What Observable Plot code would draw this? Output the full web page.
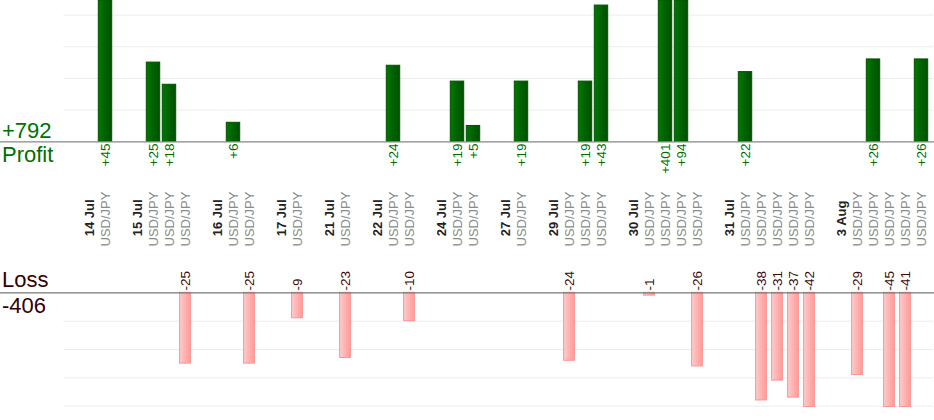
<!DOCTYPE html>
<html>
<head>
<meta charset="utf-8">
<script src="https://cdn.jsdelivr.net/npm/d3@7"></script>
<script src="https://cdn.jsdelivr.net/npm/@observablehq/plot@0.6"></script>
<style>
  html, body { margin: 0; padding: 0; background: #fff; }
  #wrap { position: relative; width: 934px; height: 420px; overflow: hidden; font-family: "Liberation Sans", Arial, sans-serif; }
  #wrap > .layer { position: absolute; left: 0; }
  .big { position: absolute; left: 2px; font-size: 22px; line-height: 22px; white-space: nowrap; }
  .pos { color: #007000; }
  .neg { color: #330000; }
</style>
</head>
<body>
<div id="wrap"></div>
<script>
// ---- data ----
const dates = ["14 Jul", "15 Jul", "16 Jul", "17 Jul", "21 Jul", "22 Jul", "24 Jul", "27 Jul", "29 Jul", "30 Jul", "31 Jul", "3 Aug"];
const pair = "USD/JPY";
const results = [
  [45],
  [25, 18, -25],
  [6, -25],
  [-9],
  [-23],
  [24, -10],
  [19, 5],
  [19],
  [-24, 19, 43],
  [-1, 401, 94, -26],
  [22, -38, -31, -37, -42],
  [-29, 26, -45, -41, 26]
];
const gridProfit = [10, 20, 30, 40];
const gridLoss = [-10, -20, -30, -40];

// ---- columns ----
const cols = [];
const dateCols = [];
const trades = [];
dates.forEach((d, i) => {
  const dc = `d${i}`;
  cols.push(dc);
  dateCols.push({col: dc, label: d});
  results[i].forEach((v, j) => {
    const c = `t${i}_${j}`;
    cols.push(c);
    trades.push({col: c, value: v, pair});
  });
  if (i < dates.length - 1) cols.push(`g${i}`);
});
const profits = trades.filter(t => t.value > 0);
const losses = trades.filter(t => t.value < 0);
const totalProfit = d3.sum(profits, d => d.value);
const totalLoss = d3.sum(losses, d => d.value);

const font = "Liberation Sans, Arial, sans-serif";
const W = 934, mL = 76.8, mR = 0.9;
const xOpt = {type: "band", domain: cols, padding: 0, axis: null};

function gradients() {
  const defs = d3.create("svg:defs");
  const g = defs.append("linearGradient").attr("id", "gradProfit")
    .attr("x1", 0).attr("x2", 1).attr("y1", 0).attr("y2", 0);
  g.append("stop").attr("offset", "0%").attr("stop-color", "#007800");
  g.append("stop").attr("offset", "100%").attr("stop-color", "#004e00");
  const r = defs.append("linearGradient").attr("id", "gradLoss")
    .attr("x1", 0).attr("x2", 1).attr("y1", 0).attr("y2", 0);
  r.append("stop").attr("offset", "0%").attr("stop-color", "#ffcccc");
  r.append("stop").attr("offset", "100%").attr("stop-color", "#ff9898");
  return defs.node();
}

// ---- top (profit) ----
const topH = 250, topBase = 141.3;
const profitChart = Plot.plot({
  width: W, height: topH,
  marginLeft: mL, marginRight: mR, marginTop: 0, marginBottom: topH - topBase,
  style: {fontFamily: font, background: "transparent"},
  x: xOpt,
  y: {domain: [0, 44.6], clamp: true, axis: null},
  marks: [
    gradients,
    Plot.ruleY(gridProfit, {stroke: "#ebebeb", strokeWidth: 1, insetLeft: -13.5}),
    Plot.rectY(profits, {x: "col", y: "value", fill: "url(#gradProfit)", stroke: "#005200", strokeWidth: 1, insetLeft: 1.3, insetRight: 1.3}),
    Plot.ruleY([0], {stroke: "#888", strokeWidth: 1.3, insetLeft: -mL, insetRight: -mR}),
    Plot.text(profits, {x: "col", y: 0, text: d => `+${d.value}`, rotate: -90, textAnchor: "end", dy: 1.8, fontSize: 13.5, fill: "#007000"}),
    Plot.text(trades, {x: "col", y: 0, text: "pair", rotate: -90, textAnchor: "start", dy: 104.7, fontSize: 13, fill: "#8a8a8a"}),
    Plot.text(dateCols, {x: "col", y: 0, text: "label", rotate: -90, textAnchor: "start", dy: 94.4, fontSize: 13, fontWeight: "bold", fill: "#222"})
  ]
});

// ---- bottom (loss) ----
const botTop = 250, botH = 170, botBase = 292.3 - botTop, botEnd = 406.5 - botTop;
const lossChart = Plot.plot({
  width: W, height: botH,
  marginLeft: mL, marginRight: mR, marginTop: botBase, marginBottom: botH - botEnd,
  style: {fontFamily: font, background: "transparent"},
  x: xOpt,
  y: {domain: [-40.3, 0], clamp: true, axis: null},
  marks: [
    gradients,
    Plot.ruleY(gridLoss, {stroke: "#ebebeb", strokeWidth: 1, insetLeft: -13.5}),
    Plot.rectY(losses, {x: "col", y: "value", fill: "url(#gradLoss)", stroke: "#ff9494", strokeWidth: 1, insetLeft: 2.6, insetRight: 2.6}),
    Plot.ruleY([0], {stroke: "#777", strokeWidth: 1.3, insetLeft: -mL, insetRight: -mR}),
    Plot.text(losses, {x: "col", y: 0, text: d => String(d.value), rotate: -90, textAnchor: "start", dy: -2.3, fontSize: 13.5, fill: "#3a0808"})
  ]
});

const wrap = document.getElementById("wrap");
profitChart.classList.add("layer"); profitChart.style.top = "0px";
lossChart.classList.add("layer"); lossChart.style.top = botTop + "px";
wrap.appendChild(profitChart);
wrap.appendChild(lossChart);

function bigLabel(text, cls, baseline) {
  const d = document.createElement("div");
  d.className = "big " + cls;
  d.textContent = text;
  d.style.top = (baseline - 18.6) + "px";
  wrap.appendChild(d);
}
bigLabel(`+${totalProfit}`, "pos", 138.5);
bigLabel("Profit", "pos", 162.5);
bigLabel("Loss", "neg", 287.3);
bigLabel(`${totalLoss}`, "neg", 314);
</script>
</body>
</html>
